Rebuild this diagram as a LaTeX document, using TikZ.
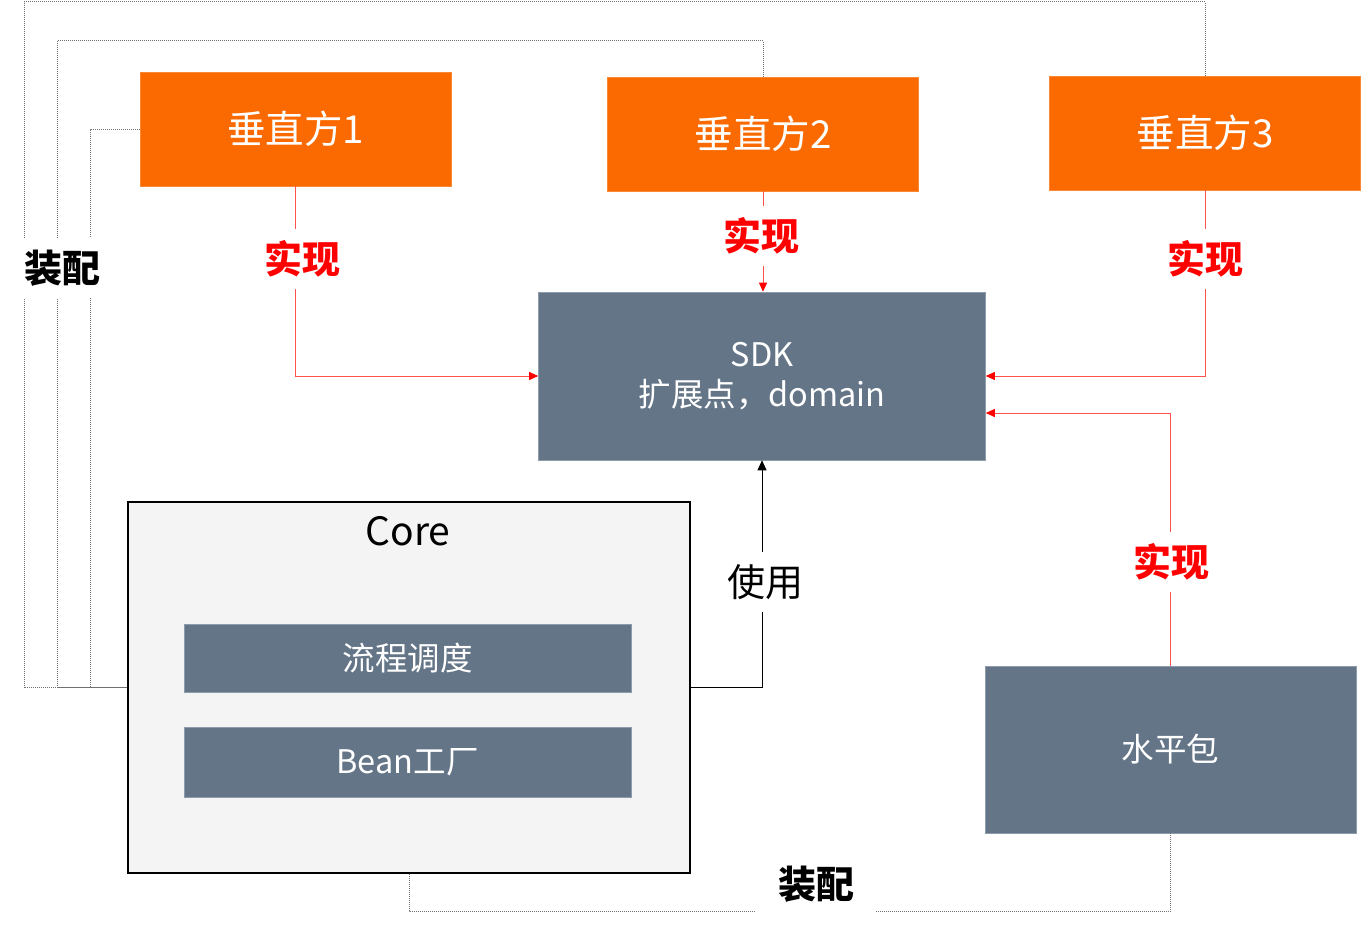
\documentclass[tikz,border=0pt]{standalone}
\usepackage{fontspec}
\setmainfont{Noto Sans CJK SC}[BoldFont={Noto Sans CJK SC Bold}]
\newfontfamily\heavyfont{Noto Sans CJK SC Black}
\usetikzlibrary{arrows.meta}
\definecolor{vorange}{HTML}{FA6A00}
\definecolor{slate}{HTML}{647588}
\definecolor{slateedge}{HTML}{8D9BAA}
\definecolor{corefill}{HTML}{F4F4F4}
\definecolor{redline}{HTML}{FF5050}
\definecolor{dotgray}{HTML}{707070}
\tikzset{
  vbox/.style={rectangle, fill=vorange, draw=vorange!80!white, line width=0.6pt, inner sep=0pt,
    minimum width=311pt, minimum height=114pt, text=white, font=\fontsize{38.5}{40}\selectfont},
  sbox/.style={rectangle, fill=slate, draw=slateedge, line width=0.6pt, inner sep=0pt,
    text=white, font=\fontsize{32.5}{40}\selectfont, align=center},
  corebox/.style={rectangle, fill=corefill, draw=black, line width=2.5pt, inner sep=0pt,
    minimum width=562pt, minimum height=371pt},
  impl/.style={draw=redline, line width=0.9pt, -{Triangle[length=9pt,width=8pt,fill=red,color=red]}},
  usearrow/.style={draw=black, line width=0.9pt, -{Triangle[length=10pt,width=9pt]}},
  asm/.style={draw=dotgray, line width=0.9pt, dash pattern=on 1pt off 1pt},
  redlabel/.style={fill=white, text=red, font=\heavyfont\fontsize{38}{40}\selectfont, inner xsep=2pt, inner ysep=12pt},
  blacklabel/.style={fill=white, text=black, font=\fontsize{38}{40}\selectfont, inner xsep=2pt, inner ysep=12pt},
  asmlabel/.style={fill=white, text=black, font=\heavyfont\fontsize{38}{40}\selectfont, inner xsep=2pt, inner ysep=12pt},
}
\begin{document}
\begin{tikzpicture}[x=1pt,y=-1pt]
\useasboundingbox (0,0) rectangle (1362,931);
% boxes
\node[vbox] (V1) at (295.5,129) {垂直方1};
\node[vbox] (V2) at (763,134) {垂直方2};
\node[vbox] (V3) at (1205,133) {垂直方3};
\node[sbox, minimum width=447pt, minimum height=168pt] (SDK) at (762,376) {SDK\\[0pt]扩展点，domain};
\node[corebox] (Core) at (409,687.5) {};
\node[font=\fontsize{39}{40}\selectfont, inner sep=0pt] (CoreT) at (408,531) {Core};
\node[sbox, minimum width=447pt, minimum height=68pt] (Flow) at (407.5,658) {流程调度};
\node[sbox, minimum width=447pt, minimum height=70pt] (Bean) at (407.5,762) {Bean工厂};
\node[sbox, minimum width=371pt, minimum height=167pt] (H) at (1170.5,749.5) {水平包};
% assembly (dotted)
\draw[asm] (V1.west) -- ++(-49,0) |- (Core.west);
\draw[asm] (V2.north) -- ++(0,-36) -| (57,687.5) -- (Core.west);
\draw[asm] (V3.north) -- ++(0,-74) -| (24,687.5) -- (Core.west);
\draw[asm] (Core.south) -- ++(0,37) -| (H.south);
% implementation (red)
\draw[impl] (V1.south) |- (SDK.west);
\draw[impl] (V2.south) -- (V2.south |- SDK.north);
\draw[impl] (V3.south) |- (SDK.east);
\draw[impl] (H.north) |- ([yshift=-37pt]SDK.east);
% use
\draw[usearrow] (Core.east) -| (SDK.south);
% labels
\node[redlabel] (L1) at (302,259) {实现};
\node[redlabel] (L2) at (761,236) {实现};
\node[redlabel] (L3) at (1205,259) {实现};
\node[redlabel] (L4) at (1171,562) {实现};
\node[blacklabel] (LU) at (765,582) {使用};
\node[asmlabel] (LA1) at (62,268) {装配};
\node[asmlabel, inner xsep=22pt] (LA2) at (816,884) {装配};
\end{tikzpicture}
\end{document}
